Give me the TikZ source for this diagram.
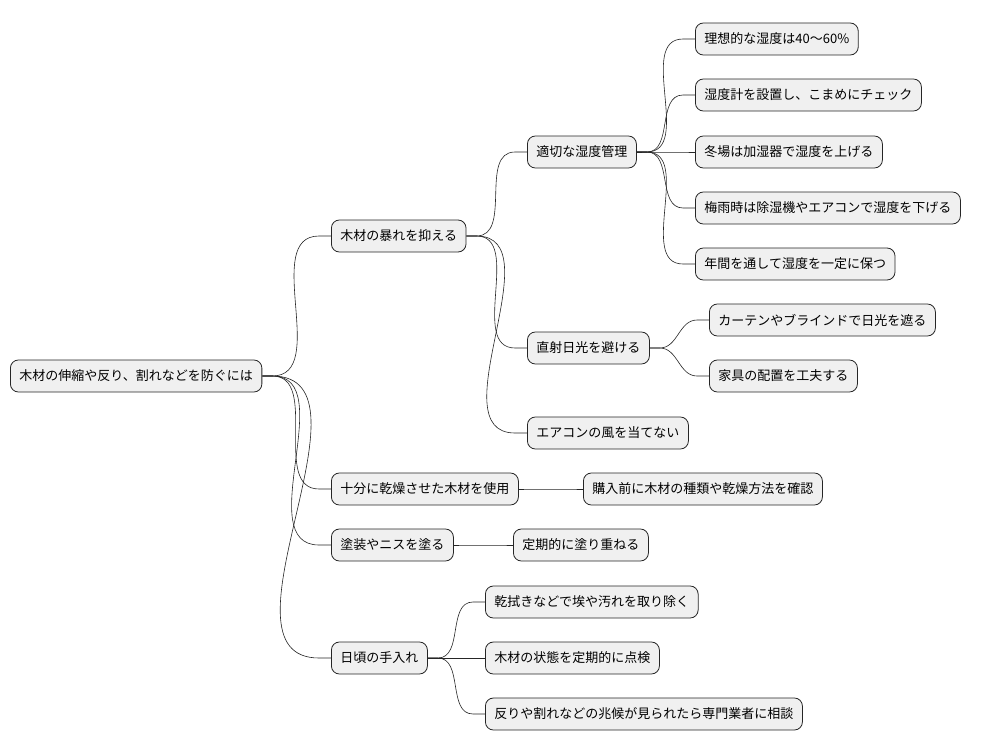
\documentclass[tikz,border=0pt]{standalone}
\usepackage{fontspec}
\setmainfont{Noto Sans CJK JP}
\usetikzlibrary{calc}
\begin{document}
\begin{tikzpicture}[x=1pt,y=-1pt,
  box/.style={draw=black!85,line width=0.8pt,fill=black!6,rounded corners=8pt,anchor=west,minimum height=32pt,inner xsep=9pt,font=\fontsize{13}{15}\selectfont},
  link/.style={line width=0.6pt,black!85}]
\useasboundingbox[fill=white] (0,0) rectangle (992,752);
\node[box] (r) at (10,376) {木材の伸縮や反り、割れなどを防ぐには};
\node[box] (a) at (331,236) {木材の暴れを抑える};
\node[box] (b) at (331,489) {十分に乾燥させた木材を使用};
\node[box] (c) at (331,545) {塗装やニスを塗る};
\node[box] (d) at (331,658) {日頃の手入れ};
\node[box] (a1) at (527,152) {適切な湿度管理};
\node[box] (a2) at (527,348) {直射日光を避ける};
\node[box] (a3) at (527,433) {エアコンの風を当てない};
\node[box] (b1) at (583,489) {購入前に木材の種類や乾燥方法を確認};
\node[box] (c1) at (513,545) {定期的に塗り重ねる};
\node[box] (d1) at (485,602) {乾拭きなどで埃や汚れを取り除く};
\node[box] (d2) at (485,658) {木材の状態を定期的に点検};
\node[box] (d3) at (485,714) {反りや割れなどの兆候が見られたら専門業者に相談};
\node[box] (h1) at (695,39) {理想的な湿度は40〜60\%};
\node[box] (h2) at (695,95) {湿度計を設置し、こまめにチェック};
\node[box] (h3) at (695,152) {冬場は加湿器で湿度を上げる};
\node[box] (h4) at (695,208) {梅雨時は除湿機やエアコンで湿度を下げる};
\node[box] (h5) at (695,264) {年間を通して湿度を一定に保つ};
\node[box] (s1) at (709,320) {カーテンやブラインドで日光を遮る};
\node[box] (s2) at (709,376) {家具の配置を工夫する};
\foreach \p/\c in {r/a,r/b,r/c,r/d,a/a1,a/a2,a/a3,b/b1,c/c1,d/d1,d/d2,d/d3,a1/h1,a1/h2,a1/h3,a1/h4,a1/h5,a2/s1,a2/s2}
  \draw[link] (\p.east) -- ++(10,0) to[out=0,in=180] ($(\c.west)+(-12,0)$) -- (\c.west);
\end{tikzpicture}
\end{document}
